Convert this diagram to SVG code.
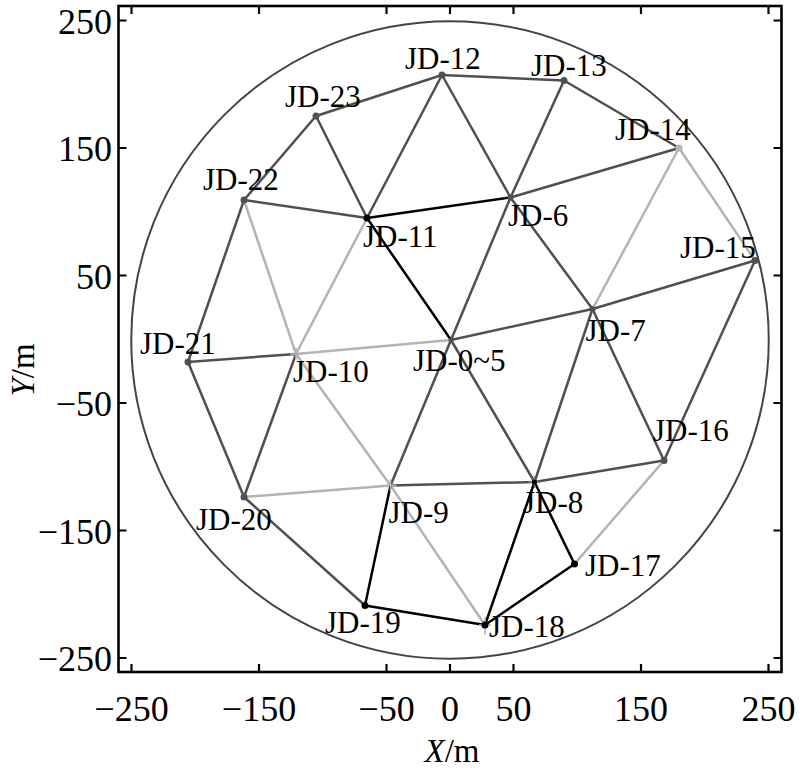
<svg xmlns="http://www.w3.org/2000/svg" width="800" height="782" viewBox="0 0 800 782">
<style>
text{font-family:"Liberation Serif","Times New Roman",serif;fill:#000}
.lbl{font-size:31px}
.tk{font-size:36px}
.ax{font-size:33px}
.e{stroke-width:2.5;fill:none;stroke-linecap:round}
.d{stroke:#505050}
.l{stroke:#b4b4b4}
.b{stroke:#000}
.nd{fill:#505050}
.nl{fill:#b4b4b4}
.nb{fill:#000}
.frame{fill:none;stroke:#000;stroke-width:2.6}
.tick{stroke:#000;stroke-width:2.2}
</style>
<rect width="800" height="782" fill="#fff"/>
<g id="axes">
<rect class="frame" x="118.5" y="6" width="663" height="666"/>
<path class="tick" d="M131.5 672v-8M259 672v-8M386.5 672v-8M450 672v-8M513.5 672v-8M641 672v-8M768.5 672v-8M131.5 6v8M259 6v8M386.5 6v8M450 6v8M513.5 6v8M641 6v8M768.5 6v8M118.5 20.5h8M118.5 148h8M118.5 275.5h8M118.5 403h8M118.5 530.5h8M118.5 658h8M781.5 20.5h-8M781.5 148h-8M781.5 275.5h-8M781.5 403h-8M781.5 530.5h-8M781.5 658h-8"/>
<g class="tk" text-anchor="middle">
<text x="131.5" y="721">−250</text>
<text x="259" y="721">−150</text>
<text x="386.5" y="721">−50</text>
<text x="450" y="721">0</text>
<text x="513.5" y="721">50</text>
<text x="641" y="721">150</text>
<text x="768.5" y="721">250</text>
</g>
<g class="tk" text-anchor="end">
<text x="112" y="33.5">250</text>
<text x="112" y="161">150</text>
<text x="112" y="288.5">50</text>
<text x="112" y="416">−50</text>
<text x="112" y="543.5">−150</text>
<text x="112" y="671">−250</text>
</g>
<text class="ax" x="452" y="762" text-anchor="middle"><tspan font-style="italic">X</tspan>/m</text>
<text class="ax" transform="translate(34 370) rotate(-90)" text-anchor="middle"><tspan font-style="italic">Y</tspan>/m</text>
</g>
<circle id="boundary" cx="450" cy="340" r="318.75" fill="none" stroke="#444" stroke-width="2"/>
<g id="connectors">
<g class="e d">
<line x1="316" y1="116" x2="442" y2="75"/>
<line x1="442" y1="75" x2="564" y2="80.5"/>
<line x1="564" y1="80.5" x2="679" y2="148"/>
<line x1="316" y1="116" x2="244" y2="200"/>
<line x1="316" y1="116" x2="367" y2="218"/>
<line x1="442" y1="75" x2="367" y2="218"/>
<line x1="442" y1="75" x2="510.5" y2="197.5"/>
<line x1="564" y1="80.5" x2="510.5" y2="197.5"/>
<line x1="244" y1="200" x2="367" y2="218"/>
<line x1="510.5" y1="197.5" x2="679" y2="148"/>
<line x1="510.5" y1="197.5" x2="592.5" y2="309"/>
<line x1="510.5" y1="197.5" x2="451" y2="340"/>
<line x1="244" y1="200" x2="188" y2="362"/>
<line x1="188" y1="362" x2="296" y2="354"/>
<line x1="188" y1="362" x2="244" y2="497"/>
<line x1="244" y1="497" x2="296" y2="354"/>
<line x1="244" y1="497" x2="365" y2="605.5"/>
<line x1="451" y1="340" x2="592.5" y2="309"/>
<line x1="592.5" y1="309" x2="755" y2="260.5"/>
<line x1="755" y1="260.5" x2="664" y2="460.5"/>
<line x1="592.5" y1="309" x2="664" y2="460.5"/>
<line x1="592.5" y1="309" x2="534.5" y2="482"/>
<line x1="451" y1="340" x2="390.5" y2="485.5"/>
<line x1="451" y1="340" x2="534.5" y2="482"/>
<line x1="390.5" y1="485.5" x2="534.5" y2="482"/>
<line x1="534.5" y1="482" x2="664" y2="460.5"/>
</g>
<g class="e l">
<line x1="296" y1="354" x2="451" y2="340"/>
<line x1="244" y1="200" x2="296" y2="354"/>
<line x1="367" y1="218" x2="296" y2="354"/>
<line x1="296" y1="354" x2="390.5" y2="485.5"/>
<line x1="390.5" y1="485.5" x2="485" y2="625"/>
<line x1="244" y1="497" x2="390.5" y2="485.5"/>
<line x1="679" y1="148" x2="592.5" y2="309"/>
<line x1="679" y1="148" x2="755" y2="260.5"/>
<line x1="664" y1="460.5" x2="574.5" y2="564"/>
</g>
<g class="e b">
<line x1="367" y1="218" x2="510.5" y2="197.5"/>
<line x1="367" y1="218" x2="451" y2="340"/>
<line x1="390.5" y1="485.5" x2="365" y2="605.5"/>
<line x1="365" y1="605.5" x2="485" y2="625"/>
<line x1="485" y1="625" x2="534.5" y2="482"/>
<line x1="534.5" y1="482" x2="574.5" y2="564"/>
<line x1="574.5" y1="564" x2="485" y2="625"/>
</g>
</g>
<g id="JD-12"><circle class="nd" cx="442" cy="75" r="3.5"/><text class="lbl" x="405" y="69">JD-12</text></g>
<g id="JD-13"><circle class="nd" cx="564" cy="80.5" r="3.5"/><text class="lbl" x="531" y="76">JD-13</text></g>
<g id="JD-23"><circle class="nd" cx="316" cy="116" r="3.5"/><text class="lbl" x="285" y="106.5">JD-23</text></g>
<g id="JD-14"><circle class="nl" cx="679" cy="148" r="3.5"/><text class="lbl" x="615" y="140">JD-14</text></g>
<g id="JD-22"><circle class="nd" cx="244" cy="200" r="3.5"/><text class="lbl" x="203" y="190">JD-22</text></g>
<g id="JD-11"><circle class="nb" cx="367" cy="218" r="3.5"/><text class="lbl" x="363" y="246.5">JD-11</text></g>
<g id="JD-6"><circle class="nd" cx="510.5" cy="197.5" r="3"/><text class="lbl" x="508" y="225.5">JD-6</text></g>
<g id="JD-15"><circle class="nd" cx="755" cy="260.5" r="3.5"/><text class="lbl" x="680" y="258">JD-15</text></g>
<g id="JD-7"><circle class="nd" cx="592.5" cy="309" r="3"/><text class="lbl" x="585.5" y="340.5">JD-7</text></g>
<g id="JD-0-5"><circle class="nd" cx="451" cy="340" r="2.5"/><text class="lbl" x="413" y="370.5">JD-0~5</text></g>
<g id="JD-21"><circle class="nd" cx="188" cy="362" r="3.5"/><text class="lbl" x="140" y="354">JD-21</text></g>
<g id="JD-10"><path d="M290 354h12M296 348v12" stroke="#b4b4b4" stroke-width="1.5"/><text class="lbl" x="293" y="382">JD-10</text></g>
<g id="JD-16"><circle class="nd" cx="664" cy="460.5" r="3.5"/><text class="lbl" x="653" y="440.5">JD-16</text></g>
<g id="JD-20"><circle class="nd" cx="244" cy="497" r="3.5"/><text class="lbl" x="196" y="530">JD-20</text></g>
<g id="JD-9"><path d="M384.5 485.5h12M390.5 479.5v12" stroke="#b4b4b4" stroke-width="1.5"/><text class="lbl" x="388.5" y="523">JD-9</text></g>
<g id="JD-8"><path d="M528.5 482h12M534.5 476v12" stroke="#808080" stroke-width="1.5"/><circle class="nb" cx="534.5" cy="482" r="2.5"/><text class="lbl" x="523" y="513">JD-8</text></g>
<g id="JD-17"><circle class="nb" cx="574.5" cy="564" r="3.5"/><text class="lbl" x="585" y="576">JD-17</text></g>
<g id="JD-19"><circle class="nb" cx="365" cy="605.5" r="3.5"/><text class="lbl" x="325" y="633">JD-19</text></g>
<g id="JD-18"><path d="M479 625h12M485 617v18" stroke="#b4b4b4" stroke-width="1.5"/><circle class="nb" cx="485" cy="625" r="3.5"/><text class="lbl" x="489" y="636.5">JD-18</text></g>
</svg>
